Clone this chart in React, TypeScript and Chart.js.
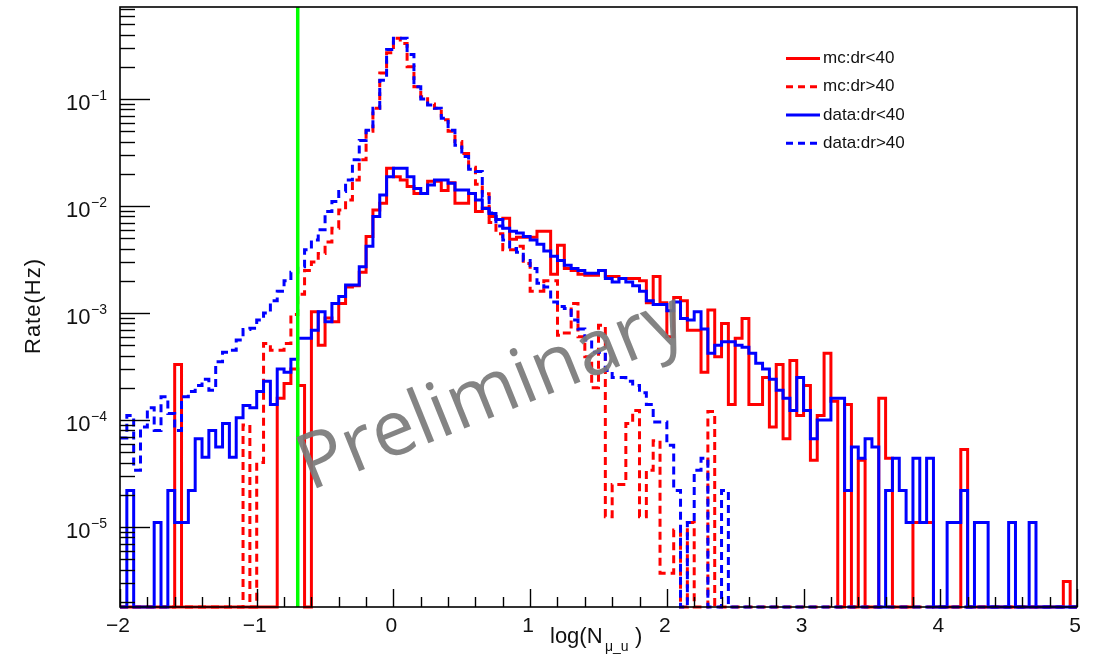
import React, { useEffect, useRef } from "react";
import { Chart, registerables } from "chart.js";

Chart.register(...registerables);

// ---- axis ranges / ticks ----
const X_MIN = -2;
const X_MAX = 5;
const BIN_W = 0.05;
const Y_MIN = 1.79e-6;
const Y_MAX = 0.724;
const X_TICKS = [-2, -1, 0, 1, 2, 3, 4, 5];
const Y_DECADES = [-5, -4, -3, -2, -1];
const CUT_X = -0.7;
const X_TITLE_MAIN = "log(N";
const X_TITLE_SUB = "\u03bc_u";
const Y_TITLE = "Rate(Hz)";
const WATERMARK = "Preliminary";

// ---- histogram contents, 140 bins of width 0.05 from -2 to 5 ----
const mcLt40 = [
  0, 0, 0, 0, 0, 0, 0, 0, 3.3e-4, 0,
  0, 0, 0, 0, 0, 0, 0, 0, 0, 0,
  0, 0, 0, 1.6e-4, 2.2e-4, 3.0e-4, 2.1e-4, 0, 1.03e-3, 5.0e-4,
  9.0e-4, 8.3e-4, 1.23e-3, 1.75e-3, 1.8e-3, 2.4e-3, 5.2e-3, 9.2e-3, 1.06e-2, 2.25e-2,
  1.88e-2, 1.75e-2, 1.52e-2, 1.31e-2, 1.31e-2, 1.7e-2, 1.7e-2, 1.4e-2, 1.65e-2, 1.06e-2,
  1.06e-2, 1.31e-2, 8.9e-3, 9.6e-3, 8.0e-3, 7.5e-3, 7.7e-3, 4.9e-3, 5.1e-3, 5.1e-3,
  5.1e-3, 5.8e-3, 5.8e-3, 2.3e-3, 4.3e-3, 2.6e-3, 2.5e-3, 2.3e-3, 2.25e-3, 2.25e-3,
  2.5e-3, 2.2e-3, 2.2e-3, 2.1e-3, 2.1e-3, 2.1e-3, 2.0e-3, 1.25e-3, 2.2e-3, 1.25e-3,
  6.0e-4, 1.4e-3, 1.3e-3, 6.9e-4, 6.9e-4, 2.8e-4, 1.07e-3, 3.9e-4, 8.0e-4, 1.4e-4,
  5.8e-4, 8.9e-4, 1.4e-4, 1.4e-4, 2.5e-4, 8.6e-5, 3.3e-4, 6.7e-5, 3.6e-4, 1.1e-4,
  2.1e-4, 4.2e-5, 1.1e-4, 4.2e-4, 1.5e-4, 0, 1.4e-4, 0, 4.2e-5, 0,
  0, 1.6e-4, 4.4e-5, 0, 0, 0, 1.1e-5, 1.1e-5, 1.1e-5, 0,
  0, 0, 0, 5.3e-5, 0, 0, 0, 0, 0, 0,
  0, 0, 0, 0, 0, 0, 0, 0, 3.1e-6, 0,
];

const mcGt40 = [
  0, 0, 0, 0, 0, 0, 0, 0, 0, 0,
  0, 0, 0, 0, 0, 0, 0, 0, 9.0e-5, 0,
  4.0e-5, 5.2e-4, 4.5e-4, 4.5e-4, 5.2e-4, 9.7e-4, 1.5e-3, 2.5e-3, 3.0e-3, 3.6e-3,
  4.6e-3, 6.2e-3, 9.2e-3, 1.14e-2, 1.75e-2, 2.7e-2, 5.0e-2, 8.2e-2, 1.75e-1, 2.7e-1,
  3.7e-1, 3.3e-1, 2.0e-1, 1.3e-1, 1.05e-1, 9.0e-2, 8.2e-2, 6.4e-2, 5.0e-2, 4.0e-2,
  3.1e-2, 2.3e-2, 1.6e-2, 1.3e-2, 7.0e-3, 5.5e-3, 3.9e-3, 3.9e-3, 4.2e-3, 2.9e-3,
  1.6e-3, 1.6e-3, 2.0e-3, 2.0e-3, 6.2e-4, 6.5e-4, 1.23e-3, 6.0e-4, 3.9e-4, 2.0e-4,
  7.7e-4, 1.25e-5, 2.5e-5, 2.5e-5, 9.3e-5, 1.23e-4, 1.25e-5, 3.4e-5, 6.4e-5, 3.7e-6,
  3.7e-6, 9.4e-6, 0, 1.1e-5, 0, 0, 1.2e-4, 0, 0, 0,
  0, 0, 0, 0, 0, 0, 0, 0, 0, 0,
  0, 0, 0, 0, 0, 0, 0, 0, 0, 0,
  0, 0, 0, 0, 0, 0, 0, 0, 0, 0,
  0, 0, 0, 0, 0, 0, 0, 0, 0, 0,
  0, 0, 0, 0, 0, 0, 0, 0, 0, 0,
];

const dataLt40 = [
  0, 2.2e-5, 0, 0, 0, 1.1e-5, 0, 2.2e-5, 1.1e-5, 1.1e-5,
  2.2e-5, 6.7e-5, 4.5e-5, 8.0e-5, 5.6e-5, 9.3e-5, 4.5e-5, 1.05e-4, 1.37e-4, 1.3e-4,
  1.85e-4, 2.3e-4, 1.4e-4, 3.0e-4, 2.8e-4, 3.7e-4, 5.8e-4, 5.8e-4, 6.9e-4, 1.03e-3,
  8.3e-4, 1.23e-3, 1.43e-3, 1.83e-3, 1.83e-3, 2.7e-3, 4.2e-3, 8.0e-3, 1.27e-2, 1.88e-2,
  2.25e-2, 2.25e-2, 1.88e-2, 1.46e-2, 1.31e-2, 1.57e-2, 1.75e-2, 1.75e-2, 1.63e-2, 1.41e-2,
  1.41e-2, 1.31e-2, 1.14e-2, 9.5e-3, 8.5e-3, 7.5e-3, 6.2e-3, 5.8e-3, 5.6e-3, 5.2e-3,
  4.8e-3, 4.4e-3, 3.8e-3, 3.4e-3, 3.1e-3, 2.8e-3, 2.6e-3, 2.5e-3, 2.35e-3, 2.35e-3,
  2.5e-3, 2.1e-3, 1.95e-3, 2.1e-3, 1.95e-3, 1.8e-3, 1.6e-3, 1.3e-3, 1.2e-3, 1.2e-3,
  1.05e-3, 1.27e-3, 8.9e-4, 8.6e-4, 1.03e-3, 7.1e-4, 4.2e-4, 5.0e-4, 5.4e-4, 5.4e-4,
  5.0e-4, 4.8e-4, 4.2e-4, 3.4e-4, 3.0e-4, 2.4e-4, 1.9e-4, 1.6e-4, 1.23e-4, 2.5e-4,
  1.23e-4, 6.7e-5, 1.0e-4, 1.0e-4, 1.6e-4, 1.6e-4, 2.2e-5, 5.6e-5, 4.4e-5, 6.7e-5,
  5.6e-5, 0, 2.2e-5, 4.4e-5, 2.2e-5, 1.1e-5, 4.4e-5, 1.1e-5, 4.4e-5, 0,
  0, 1.1e-5, 1.1e-5, 2.2e-5, 0, 1.1e-5, 1.1e-5, 0, 0, 0,
  1.1e-5, 0, 0, 1.1e-5, 0, 0, 0, 0, 0, 0,
];

const dataGt40 = [
  6.8e-5, 1.1e-4, 3.4e-5, 8.6e-5, 1.3e-4, 8.0e-5, 1.65e-4, 1.15e-4, 8.0e-5, 1.65e-4,
  1.85e-4, 2.1e-4, 2.4e-4, 1.9e-4, 3.5e-4, 4.3e-4, 4.5e-4, 5.6e-4, 7.0e-4, 7.2e-4,
  8.6e-4, 1.0e-3, 1.3e-3, 1.6e-3, 2.0e-3, 2.4e-3, 2.7e-3, 3.9e-3, 4.8e-3, 6.0e-3,
  8.9e-3, 1.1e-2, 1.37e-2, 1.75e-2, 2.7e-2, 4.1e-2, 5.1e-2, 8.2e-2, 1.5e-1, 2.9e-1,
  3.7e-1, 3.7e-1, 2.6e-1, 1.3e-1, 1.0e-1, 8.8e-2, 8.2e-2, 6.6e-2, 5.1e-2, 3.7e-2,
  2.9e-2, 2.2e-2, 2.1e-2, 1.2e-2, 8.6e-3, 6.5e-3, 4.8e-3, 4.0e-3, 3.7e-3, 3.1e-3,
  2.6e-3, 1.9e-3, 1.75e-3, 1.27e-3, 1.15e-3, 1.1e-3, 8.6e-4, 7.1e-4, 5.6e-4, 4.3e-4,
  4.3e-4, 2.9e-4, 2.5e-4, 2.5e-4, 2.3e-4, 2.1e-4, 1.8e-4, 1.4e-4, 9.6e-5, 9.6e-5,
  5.8e-5, 2.2e-5, 0, 1.1e-5, 3.4e-5, 4.4e-5, 0, 0, 2.2e-5, 0,
  0, 0, 0, 0, 0, 0, 0, 0, 0, 0,
  0, 0, 0, 0, 0, 0, 0, 0, 0, 0,
  0, 0, 0, 0, 0, 0, 0, 0, 0, 0,
  0, 0, 0, 0, 0, 0, 0, 0, 0, 0,
  0, 0, 0, 0, 0, 0, 0, 0, 0, 0,
];

const SERIES = [
  { label: "mc:dr<40", values: mcLt40, color: "#ff0000", dashed: false },
  { label: "mc:dr>40", values: mcGt40, color: "#ff0000", dashed: true },
  { label: "data:dr<40", values: dataLt40, color: "#0000ff", dashed: false },
  { label: "data:dr>40", values: dataGt40, color: "#0000ff", dashed: true },
];

const FONT = '"Liberation Sans", Arial, Helvetica, sans-serif';
const DASH = [8, 5];

function stepData(vals: number[]) {
  const pts = vals.map((v, i) => ({ x: X_MIN + i * BIN_W, y: v > 0 ? v : Y_MIN }));
  pts.push({ x: X_MAX, y: pts[pts.length - 1].y });
  return pts;
}

function minusify(n: number) {
  return n < 0 ? "\u2212" + Math.abs(n) : String(n);
}

const rootStyle = {
  id: "rootStyle",
  afterDatasetsDraw(chart: any) {
    const { ctx, chartArea: a, scales } = chart;
    const xs = scales.x;
    const ys = scales.y;
    ctx.save();
    ctx.strokeStyle = "#000";
    ctx.fillStyle = "#111";
    // frame
    ctx.lineWidth = 1.6;
    ctx.setLineDash([]);
    ctx.strokeRect(a.left, a.top, a.right - a.left, a.bottom - a.top);

    // x ticks: majors at integers, minors every 0.2
    ctx.lineWidth = 1.4;
    const nMinor = Math.round((X_MAX - X_MIN) / 0.2);
    for (let i = 0; i <= nMinor; i++) {
      const v = X_MIN + i * 0.2;
      const px = Math.round(xs.getPixelForValue(v)) + 0.5;
      const len = i % 5 === 0 ? 18 : 10;
      ctx.beginPath();
      ctx.moveTo(px, a.bottom);
      ctx.lineTo(px, a.bottom - len);
      ctx.stroke();
    }
    // y ticks (log)
    for (let d = -7; d <= 0; d++) {
      for (let m = 1; m <= 9; m++) {
        const v = m * Math.pow(10, d);
        if (v < Y_MIN || v > Y_MAX) continue;
        const py = Math.round(ys.getPixelForValue(v)) + 0.5;
        const len = m === 1 ? 30 : 15;
        ctx.beginPath();
        ctx.moveTo(a.left, py);
        ctx.lineTo(a.left + len, py);
        ctx.stroke();
      }
    }

    // x tick labels
    ctx.font = `21px ${FONT}`;
    ctx.textAlign = "center";
    ctx.textBaseline = "alphabetic";
    X_TICKS.forEach((t) => {
      ctx.fillText(minusify(t), xs.getPixelForValue(t) - 2, a.bottom + 25);
    });

    // y tick labels 10^n
    Y_DECADES.forEach((d) => {
      const py = ys.getPixelForValue(Math.pow(10, d));
      const sup = minusify(d);
      ctx.font = `14px ${FONT}`;
      ctx.textAlign = "right";
      const supW = ctx.measureText(sup).width;
      ctx.fillText(sup, 107, py + 1);
      ctx.font = `22px ${FONT}`;
      ctx.fillText("10", 107 - supW - 0.5, py + 11);
    });

    // x title
    ctx.textAlign = "left";
    ctx.font = `22px ${FONT}`;
    ctx.fillText(X_TITLE_MAIN, 550, 643);
    ctx.font = `14px ${FONT}`;
    ctx.fillText(X_TITLE_SUB, 605, 651);
    ctx.font = `22px ${FONT}`;
    ctx.fillText(")", 635, 643);

    // y title
    ctx.save();
    ctx.translate(40, 306);
    ctx.rotate(-Math.PI / 2);
    ctx.textAlign = "center";
    ctx.font = `22px ${FONT}`;
    try {
      (ctx as any).letterSpacing = "1px";
    } catch (e) {}
    ctx.fillText(Y_TITLE, 0, 0);
    ctx.restore();

    // legend
    const rows = [58.5, 86.8, 115, 143.3];
    SERIES.forEach((s, i) => {
      const y = rows[i];
      ctx.strokeStyle = s.color;
      ctx.lineWidth = 3;
      ctx.setLineDash(s.dashed ? [7, 5] : []);
      ctx.beginPath();
      ctx.moveTo(786, y);
      ctx.lineTo(820, y);
      ctx.stroke();
      ctx.setLineDash([]);
      ctx.fillStyle = "#111";
      ctx.font = `17px ${FONT}`;
      ctx.textAlign = "left";
      ctx.textBaseline = "middle";
      ctx.fillText(s.label, 823, y);
    });
    ctx.restore();
  },
  afterDraw(chart: any) {
    const { ctx } = chart;
    ctx.save();
    ctx.translate(310, 491);
    ctx.rotate((-22 * Math.PI) / 180);
    ctx.fillStyle = "rgba(122,122,122,0.92)";
    ctx.font = '77px "Open Sans", "Liberation Sans", sans-serif';
    ctx.textAlign = "left";
    ctx.textBaseline = "alphabetic";
    ctx.fillText(WATERMARK, 0, 0);
    ctx.restore();
  },
};

export default function App() {
  const ref = useRef<HTMLCanvasElement | null>(null);
  useEffect(() => {
    document.body.style.margin = "0";
    const canvas = ref.current!;
    const histDatasets = SERIES.map((s) => ({
      label: s.label,
      data: stepData(s.values),
      borderColor: s.color,
      backgroundColor: s.color,
      borderWidth: 3,
      borderDash: s.dashed ? DASH : [],
      stepped: true as const,
      pointRadius: 0,
      fill: false,
      clip: 4,
    }));
    // draw order: first dataset is drawn on top
    const ordered = [histDatasets[3], histDatasets[2], histDatasets[1], histDatasets[0]];
    const chart = new Chart(canvas, {
      type: "line",
      data: {
        datasets: [
          {
            label: "cut",
            data: [
              { x: CUT_X, y: Y_MIN },
              { x: CUT_X, y: Y_MAX },
            ],
            borderColor: "#00ff00",
            backgroundColor: "#00ff00",
            borderWidth: 3.5,
            pointRadius: 0,
            fill: false,
            clip: 0,
          } as any,
          ...ordered,
        ],
      },
      options: {
        animation: false,
        responsive: false,
        devicePixelRatio: 1,
        layout: { padding: { left: 120, right: 27, top: 7, bottom: 59 } },
        scales: {
          x: { type: "linear", min: X_MIN, max: X_MAX, display: false },
          y: { type: "logarithmic", min: Y_MIN, max: Y_MAX, display: false },
        },
        plugins: { legend: { display: false }, tooltip: { enabled: false } },
        elements: { line: { tension: 0 } },
      },
      plugins: [rootStyle],
    });
    return () => chart.destroy();
  }, []);
  return (
    <div style={{ position: "absolute", left: 0, top: 0, width: 1104, height: 666, background: "#fff" }}>
      <canvas ref={ref} width={1104} height={666} style={{ width: 1104, height: 666, display: "block" }} />
    </div>
  );
}
